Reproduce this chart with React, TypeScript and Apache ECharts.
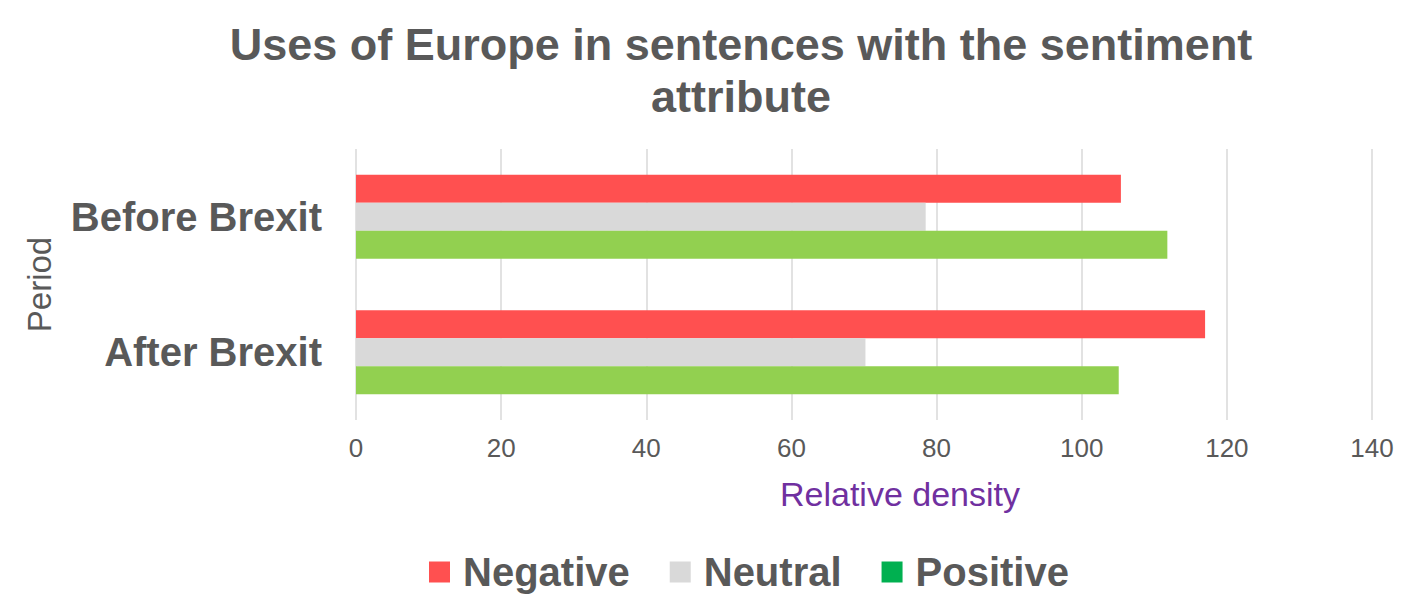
import * as echarts from 'echarts';
import { useEffect, useRef } from 'react';

const periods = ['Before Brexit', 'After Brexit'];
const seriesNames = ['Negative', 'Neutral', 'Positive'];
const negativeValues = [105.4, 117.0];
const neutralValues = [78.5, 70.2];
const positiveValues = [111.8, 105.1];
const barColors = ['#FF5050', '#D9D9D9', '#92D050'];
const legendColors = ['#FF5050', '#D9D9D9', '#00B050'];

const FONT = '"Liberation Sans", Arial, sans-serif';
const TEXT = '#595959';

const App = () => {
  const chartRef = useRef(null);

  useEffect(() => {
    const chart = echarts.init(chartRef.current, null, { renderer: 'svg' });
    const values = [negativeValues, neutralValues, positiveValues];

    const option = {
      animation: false,
      backgroundColor: '#fff',
      title: {
        text: 'Uses of Europe in sentences with the sentiment\nattribute',
        left: 741,
        top: 18,
        padding: 0,
        textAlign: 'center',
        textStyle: {
          fontFamily: FONT,
          fontSize: 45,
          fontWeight: 'bold',
          color: TEXT,
          lineHeight: 52,
        },
      },
      legend: {
        left: 429,
        top: 552,
        padding: 0,
        icon: 'rect',
        itemWidth: 21,
        itemHeight: 21,
        itemGap: 40,
        data: seriesNames.map((name, i) => ({
          name,
          itemStyle: { color: legendColors[i] },
        })),
        textStyle: {
          fontFamily: FONT,
          fontSize: 40,
          fontWeight: 'bold',
          color: TEXT,
          lineHeight: 40,
          padding: [0, 0, 0, 8],
        },
      },
      grid: {
        left: 356,
        right: 35,
        top: 149,
        bottom: 180,
      },
      xAxis: {
        type: 'value',
        min: 0,
        max: 140,
        interval: 20,
        name: 'Relative density',
        nameLocation: 'middle',
        nameGap: 57,
        nameTextStyle: {
          fontFamily: FONT,
          fontSize: 34,
          color: '#7030A0',
          padding: [0, 0, 0, 72],
        },
        axisLine: { show: false },
        axisTick: { show: false },
        axisLabel: {
          fontFamily: FONT,
          fontSize: 26,
          color: TEXT,
          margin: 15,
        },
        splitLine: {
          show: true,
          lineStyle: { color: '#D9D9D9', width: 1.5 },
        },
      },
      yAxis: {
        type: 'category',
        data: periods,
        inverse: true,
        name: 'Period',
        nameLocation: 'middle',
        nameGap: 300,
        nameRotate: 90,
        nameTextStyle: {
          fontFamily: FONT,
          fontSize: 33,
          color: TEXT,
        },
        axisLine: { show: false },
        axisTick: { show: false },
        axisLabel: {
          fontFamily: FONT,
          fontSize: 40,
          fontWeight: 'bold',
          color: TEXT,
          margin: 34,
        },
      },
      series: seriesNames.map((name, i) => ({
        name,
        type: 'bar',
        data: values[i],
        barGap: '0%',
        barCategoryGap: '38%',
        itemStyle: { color: barColors[i] },
      })),
    };

    chart.setOption(option);

    return () => {
      chart.dispose();
    };
  }, []);

  return (
    <div
      ref={chartRef}
      style={{ position: 'fixed', left: 0, top: 0, width: '1407px', height: '600px' }}
    />
  );
};

export default App;
